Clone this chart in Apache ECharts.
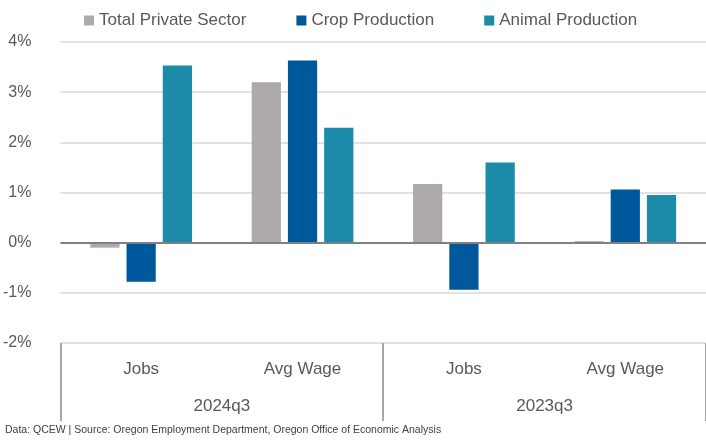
<!DOCTYPE html>
<html>
<head>
<meta charset="utf-8">
<script src="https://cdn.jsdelivr.net/npm/echarts@6/dist/echarts.min.js"></script>
<style>
  html, body { margin: 0; padding: 0; background: #fff; }
  #chart { width: 706px; height: 442px; }
</style>
</head>
<body>
<div id="chart"></div>
<script>
var measures = ['Jobs', 'Avg Wage', 'Jobs', 'Avg Wage']
var periods = ['2024q3', '2023q3']
var seriesNames = ['Total Private Sector', 'Crop Production', 'Animal Production']
var totalPrivate = [-0.1, 3.2, 1.17, 0.03]
var cropProduction = [-0.78, 3.63, -0.94, 1.06]
var animalProduction = [3.53, 2.29, 1.6, 0.95]
var colors = ['#aeaaaa', '#00589c', '#1c8ba9']

var myChart = echarts.init(document.getElementById('chart'))
var font = 'Liberation Sans'

var option = {
  animation: false,
  backgroundColor: '#ffffff',
  color: colors,
  title: {
    text: 'Data: QCEW | Source: Oregon Employment Department, Oregon Office of Economic Analysis',
    left: 0,
    bottom: 1,
    textStyle: { fontFamily: font, fontSize: 10.5, fontWeight: 'normal', color: '#404040' }
  },
  legend: {
    top: 7,
    left: 79,
    itemWidth: 10,
    itemHeight: 10,
    itemGap: 50,
    icon: 'rect',
    textStyle: { fontFamily: font, fontSize: 17, color: '#595959' },
    data: seriesNames
  },
  grid: { left: 60, right: 0, top: 42, bottom: 99 },
  yAxis: {
    type: 'value',
    min: -2,
    max: 4,
    interval: 1,
    axisLine: { show: false },
    axisTick: { show: false },
    axisLabel: { formatter: '{value}%', fontFamily: font, fontSize: 16, color: '#595959', margin: 29 },
    splitLine: { lineStyle: { color: '#d9d9d9', width: 1.5 } }
  },
  xAxis: [
    {
      type: 'category',
      data: measures,
      position: 'bottom',
      axisLine: { show: false },
      axisTick: { show: false },
      axisLabel: { fontFamily: font, fontSize: 17, color: '#595959', margin: 18 }
    },
    {
      type: 'category',
      data: periods,
      position: 'bottom',
      axisLine: { show: false },
      axisTick: { show: true, length: 78, lineStyle: { color: '#8c8c8c', width: 1.5 } },
      axisLabel: { fontFamily: font, fontSize: 17, color: '#595959', margin: 55 }
    }
  ],
  series: [
    {
      name: seriesNames[0],
      type: 'bar',
      data: totalPrivate,
      barGap: '24%',
      barCategoryGap: '37%',
      markLine: {
        silent: true,
        symbol: 'none',
        label: { show: false },
        lineStyle: { color: '#808080', width: 2, type: 'solid' },
        data: [{ yAxis: 0 }]
      }
    },
    {
      name: seriesNames[1],
      type: 'bar',
      data: cropProduction,
      barGap: '24%',
      barCategoryGap: '37%'
    },
    {
      name: seriesNames[2],
      type: 'bar',
      data: animalProduction,
      barGap: '24%',
      barCategoryGap: '37%'
    }
  ]
}
myChart.setOption(option, true)
</script>
</body>
</html>
